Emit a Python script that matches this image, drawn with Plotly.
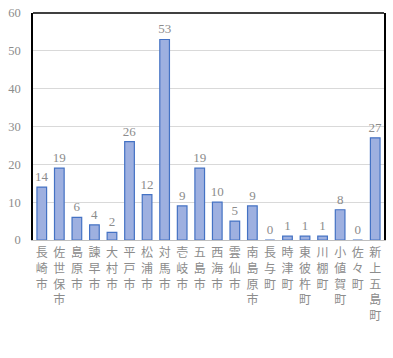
import plotly.graph_objects as go

categories = ["長崎市", "佐世保市", "島原市", "諫早市", "大村市", "平戸市", "松浦市", "対馬市",
              "壱岐市", "五島市", "西海市", "雲仙市", "南島原市", "長与町", "時津町", "東彼杵町",
              "川棚町", "小値賀町", "佐々町", "新上五島町"]
values = [14, 19, 6, 4, 2, 26, 12, 53, 9, 19, 10, 5, 9, 0, 1, 1, 1, 8, 0, 27]
y_ticks = [0, 10, 20, 30, 40, 50, 60]

tick_text = ["<br>".join(list(c)) for c in categories]

fig = go.Figure(go.Bar(
    x=categories, y=values,
    marker=dict(color="#9eb0e0", line=dict(color="#4472c4", width=1.2)),
    width=0.55,
    text=[str(v) for v in values], textposition="outside",
    textfont=dict(family="Liberation Serif", size=13, color="#8c8c8c"),
    constraintext="none",
    cliponaxis=False,
))

fig.update_layout(
    width=393, height=358,
    margin=dict(l=33, r=9, t=13, b=118, autoexpand=False),
    plot_bgcolor="white", paper_bgcolor="white",
    showlegend=False,
    shapes=[dict(type="line", xref="paper", yref="paper", x0=0, x1=1, y0=1, y1=1,
                 line=dict(color="black", width=1.5))],
)
fig.update_xaxes(
    tickmode="array", tickvals=categories, ticktext=tick_text,
    tickfont=dict(family="Noto Sans CJK JP", size=12, color="#8c8c8c"),
    showline=True, linecolor="#bfbfbf", linewidth=1, ticks="", tickangle=0,
    range=[-0.5, 19.5], automargin=False, ticklabelstandoff=2,
)
fig.update_yaxes(
    range=[0, 60], tickvals=y_ticks,
    tickfont=dict(family="Liberation Serif", size=12.5, color="#8c8c8c"),
    showgrid=True, gridcolor="#d9d9d9", gridwidth=1,
    showline=True, linecolor="black", linewidth=1.5, mirror=True,
    zeroline=False, ticks="", ticklabelstandoff=8, automargin=False,
)

fig.write_html("out.html", config={"displayModeBar": False},
               post_script="document.body.style.margin='0';")
